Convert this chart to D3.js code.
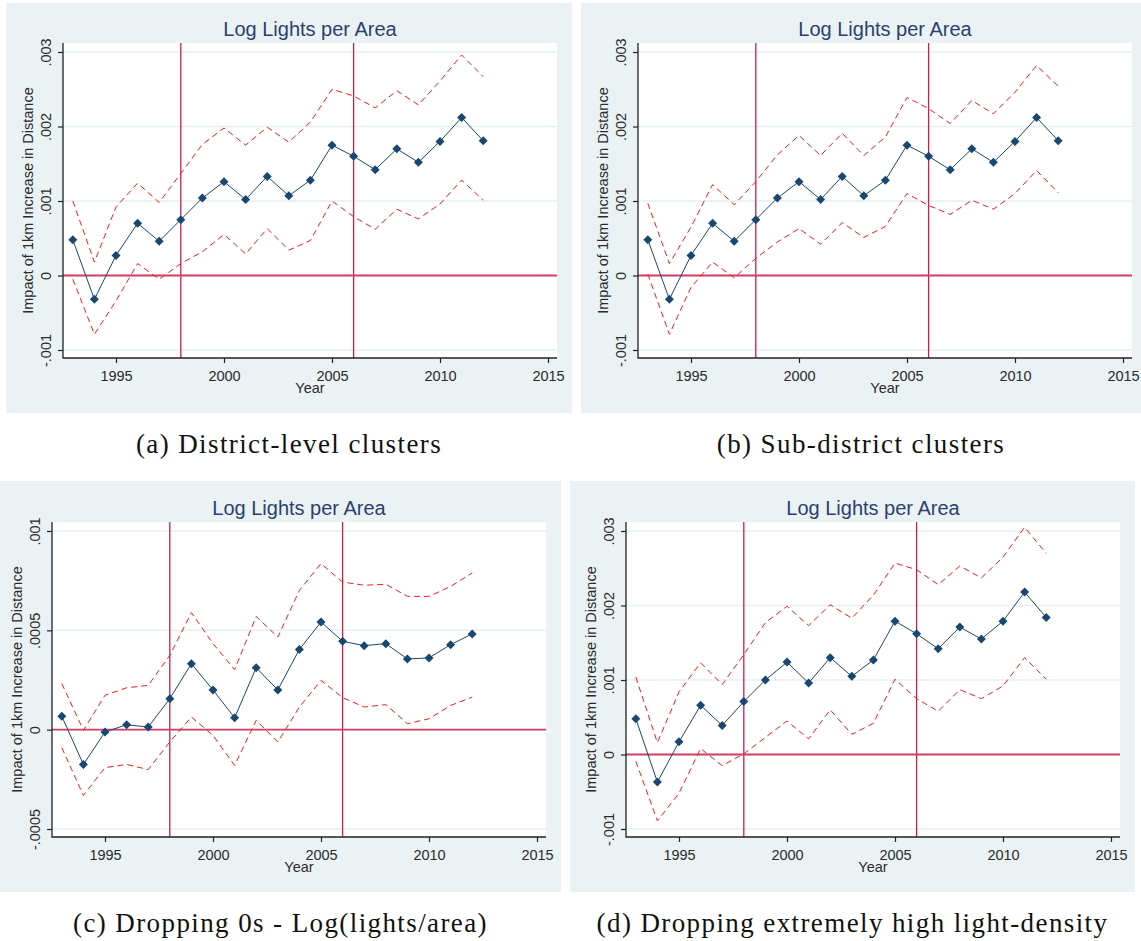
<!DOCTYPE html>
<html>
<head>
<meta charset="utf-8">
<title>Log Lights per Area</title>
<script src="https://cdn.jsdelivr.net/npm/d3@7"></script>
<style>
  body { margin: 0; background: #fff; }
  .tick text { font-family: 'Liberation Sans', Arial, sans-serif; font-size: 14.5px; fill: #2b2b2b; }
  .tick line { stroke: #222; }
</style>
</head>
<body>
<script>
var years = [1993, 1994, 1995, 1996, 1997, 1998, 1999, 2000, 2001, 2002,
             2003, 2004, 2005, 2006, 2007, 2008, 2009, 2010, 2011, 2012];

// (a) district-level clusters
var aEst   = [0.00048, -0.00032, 0.00027, 0.00070, 0.00046, 0.00075, 0.00104, 0.00126, 0.00102, 0.00133,
              0.00107, 0.00128, 0.00175, 0.00160, 0.00142, 0.00170, 0.00152, 0.00180, 0.00212, 0.00181];
var aUpper = [0.00100, 0.00018, 0.00092, 0.00124, 0.00098, 0.00137, 0.00176, 0.00198, 0.00175, 0.00199,
              0.00179, 0.00206, 0.00250, 0.00241, 0.00225, 0.00248, 0.00229, 0.00261, 0.00296, 0.00267];
var aLower = [-0.00005, -0.00079, -0.00034, 0.00016, -0.00005, 0.00016, 0.00032, 0.00055, 0.00029, 0.00063,
              0.00034, 0.00047, 0.00100, 0.00079, 0.00062, 0.00089, 0.00076, 0.00096, 0.00128, 0.00101];

// (b) sub-district clusters
var bEst   = [0.00048, -0.00032, 0.00027, 0.00070, 0.00046, 0.00075, 0.00104, 0.00126, 0.00102, 0.00133,
              0.00107, 0.00128, 0.00175, 0.00160, 0.00142, 0.00170, 0.00152, 0.00180, 0.00212, 0.00181];
var bUpper = [0.00097, 0.00016, 0.00065, 0.00122, 0.00095, 0.00126, 0.00162, 0.00188, 0.00161, 0.00191,
              0.00161, 0.00186, 0.00239, 0.00224, 0.00204, 0.00235, 0.00217, 0.00246, 0.00282, 0.00254];
var bLower = [0.00002, -0.00079, -0.00016, 0.00018, -0.00003, 0.00023, 0.00045, 0.00063, 0.00042, 0.00071,
              0.00051, 0.00066, 0.00110, 0.00094, 0.00082, 0.00101, 0.00089, 0.00110, 0.00141, 0.00111];

// (c) dropping 0s
var cEst   = [0.000067, -0.000175, -0.000012, 0.000025, 0.000013, 0.000156, 0.000332, 0.000200, 0.000060, 0.000312,
              0.000200, 0.000404, 0.000542, 0.000445, 0.000423, 0.000433, 0.000356, 0.000361, 0.000428, 0.000482];
var cUpper = [0.000232, -0.000003, 0.000173, 0.000211, 0.000223, 0.000374, 0.000589, 0.000433, 0.000302, 0.000570,
              0.000466, 0.000701, 0.000836, 0.000743, 0.000727, 0.000732, 0.000671, 0.000671, 0.000721, 0.000789];
var cLower = [-0.000091, -0.000331, -0.000191, -0.000175, -0.000201, -0.000062, 0.000064, -0.000029, -0.000180, 0.000047,
              -0.000062, 0.000114, 0.000248, 0.000161, 0.000114, 0.000126, 0.000030, 0.000055, 0.000122, 0.000164];

// (d) dropping extremely high light-density
var dEst   = [0.00048, -0.00037, 0.00017, 0.00066, 0.00039, 0.00071, 0.00100, 0.00124, 0.00096, 0.00130,
              0.00105, 0.00127, 0.00179, 0.00162, 0.00142, 0.00171, 0.00155, 0.00179, 0.00218, 0.00184];
var dUpper = [0.00104, 0.00016, 0.00084, 0.00123, 0.00094, 0.00134, 0.00177, 0.00199, 0.00173, 0.00201,
              0.00183, 0.00214, 0.00257, 0.00248, 0.00228, 0.00253, 0.00237, 0.00265, 0.00305, 0.00270];
var dLower = [-0.00009, -0.00089, -0.00052, 0.00008, -0.00015, 0.00001, 0.00023, 0.00045, 0.00021, 0.00060,
              0.00027, 0.00042, 0.00101, 0.00075, 0.00058, 0.00087, 0.00075, 0.00092, 0.00130, 0.00101];

var wideTicks  = [-0.001, 0, 0.001, 0.002, 0.003];
var wideLabels = ['-.001', '0', '.001', '.002', '.003'];
var narrowTicks  = [-0.0005, 0, 0.0005, 0.001];
var narrowLabels = ['-.0005', '0', '.0005', '.001'];
var xTicks = [1995, 2000, 2005, 2010, 2015];
var xLines = [1998, 2006];

var titleText = 'Log Lights per Area';
var yTitle = 'Impact of 1km Increase in Distance';
var xTitle = 'Year';
var captions = ['(a) District-level clusters', '(b) Sub-district clusters',
                '(c) Dropping 0s - Log(lights/area)', '(d) Dropping extremely high light-density'];

var w = 1141, h = 941;
var plotW = 494, plotH = 315;
var sans = "'Liberation Sans', Arial, sans-serif";

var svg = d3.select('body').append('svg')
            .attr('width', w)
            .attr('height', h);

var panels = [
  {bx: 6,   by: 3,   bw: 566, bh: 410, left: 63,  top: 43,  est: aEst, upper: aUpper, lower: aLower, ticks: wideTicks,   labels: wideLabels,   caption: captions[0]},
  {bx: 581, by: 3,   bw: 560, bh: 410, left: 638, top: 43,  est: bEst, upper: bUpper, lower: bLower, ticks: wideTicks,   labels: wideLabels,   caption: captions[1]},
  {bx: 0,   by: 481, bw: 561, bh: 411, left: 52,  top: 522, est: cEst, upper: cUpper, lower: cLower, ticks: narrowTicks, labels: narrowLabels, caption: captions[2]},
  {bx: 570, by: 481, bw: 565, bh: 411, left: 626, top: 522, est: dEst, upper: dUpper, lower: dLower, ticks: wideTicks,   labels: wideLabels,   caption: captions[3]}
];

function drawPanel(p) {
  var g = svg.append('g');
  var left = p.left, right = p.left + plotW, top = p.top, bottom = p.top + plotH;

  g.append('rect')
    .attr('x', p.bx).attr('y', p.by)
    .attr('width', p.bw).attr('height', p.bh)
    .attr('fill', '#eaf2f3');

  g.append('rect')
    .attr('x', left).attr('y', top)
    .attr('width', plotW).attr('height', plotH)
    .attr('fill', '#fff');

  var xScale = d3.scaleLinear().domain([1995, 2015]).range([left + 53, left + 485]);
  var yScale = d3.scaleLinear()
                 .domain([p.ticks[0], p.ticks[p.ticks.length - 1]])
                 .range([top + 307, top + 9]);

  // gridlines
  g.selectAll('line.grid')
    .data(p.ticks)
    .enter()
    .append('line')
    .attr('class', 'grid')
    .attr('x1', left).attr('x2', right)
    .attr('y1', function(d) {return yScale(d);})
    .attr('y2', function(d) {return yScale(d);})
    .attr('stroke', '#e6eff1')
    .attr('stroke-width', 1.5);

  // reference lines
  g.selectAll('line.xref')
    .data(xLines)
    .enter()
    .append('line')
    .attr('class', 'xref')
    .attr('x1', function(d) {return xScale(d);})
    .attr('x2', function(d) {return xScale(d);})
    .attr('y1', top).attr('y2', bottom)
    .attr('stroke', '#cc1f48')
    .attr('stroke-width', 1.3);

  g.append('line')
    .attr('x1', left).attr('x2', right)
    .attr('y1', yScale(0)).attr('y2', yScale(0))
    .attr('stroke', '#d23f66')
    .attr('stroke-width', 1.8);

  var band = function(vals) {
    return d3.line()
             .x(function(d, i) {return xScale(years[i]);})
             .y(function(d) {return yScale(d);})(vals);
  };

  [p.upper, p.lower].forEach(function(vals) {
    g.append('path')
      .attr('d', band(vals))
      .attr('fill', 'none')
      .attr('stroke', '#ff1a1a')
      .attr('stroke-width', 1)
      .attr('stroke-dasharray', '6,4');
  });

  g.append('path')
    .attr('d', band(p.est))
    .attr('fill', 'none')
    .attr('stroke', '#1a476f')
    .attr('stroke-width', 1);

  g.selectAll('path.mark')
    .data(p.est)
    .enter()
    .append('path')
    .attr('class', 'mark')
    .attr('d', 'M0,-4.5L4.5,0L0,4.5L-4.5,0Z')
    .attr('transform', function(d, i) {return 'translate(' + xScale(years[i]) + ',' + yScale(d) + ')';})
    .attr('fill', '#1a476f');

  // axes
  var yAxis = d3.axisLeft(yScale)
                .tickValues(p.ticks)
                .tickFormat(function(d, i) {return p.labels[i];})
                .tickSize(5)
                .tickSizeOuter(0);

  var ya = g.append('g')
    .attr('transform', 'translate(' + left + ',0)')
    .call(yAxis);
  ya.select('.domain').remove();
  ya.selectAll('.tick line').attr('stroke-width', 1.2);
  ya.selectAll('.tick text')
    .attr('x', 0)
    .attr('dy', null)
    .attr('text-anchor', 'middle')
    .attr('transform', 'translate(-12,0) rotate(-90)');

  var xAxis = d3.axisBottom(xScale)
                .tickValues(xTicks)
                .tickFormat(d3.format('d'))
                .tickSize(5)
                .tickSizeOuter(0);

  var xa = g.append('g')
    .attr('transform', 'translate(0,' + bottom + ')')
    .call(xAxis);
  xa.select('.domain').remove();
  xa.selectAll('.tick line').attr('stroke-width', 1.2);
  xa.selectAll('.tick text').attr('y', 13);

  g.append('path')
    .attr('d', 'M' + left + ',' + top + 'V' + bottom + 'H' + right)
    .attr('fill', 'none')
    .attr('stroke', '#222')
    .attr('stroke-width', 1.3);

  // texts
  g.append('text')
    .attr('x', (left + right) / 2)
    .attr('y', top - 7)
    .attr('text-anchor', 'middle')
    .style('font-family', sans)
    .style('font-size', '20px')
    .style('fill', '#2a4170')
    .text(titleText);

  g.append('text')
    .attr('x', (left + right) / 2)
    .attr('y', bottom + 35)
    .attr('text-anchor', 'middle')
    .style('font-family', sans)
    .style('font-size', '14.5px')
    .style('fill', '#2b2b2b')
    .text(xTitle);

  g.append('text')
    .attr('transform', 'translate(' + (left - 30) + ',' + ((top + bottom) / 2) + ') rotate(-90)')
    .attr('text-anchor', 'middle')
    .style('font-family', sans)
    .style('font-size', '14.5px')
    .style('fill', '#2b2b2b')
    .text(yTitle);

  g.append('text')
    .attr('x', p.bx + p.bw / 2)
    .attr('y', p.by + p.bh + 40)
    .attr('text-anchor', 'middle')
    .style('font-family', "'Liberation Serif', 'Times New Roman', serif")
    .style('font-size', '27px')
    .style('letter-spacing', '1.4px')
    .style('fill', '#111')
    .text(p.caption);
}

panels.forEach(drawPanel);
</script>
</body>
</html>
